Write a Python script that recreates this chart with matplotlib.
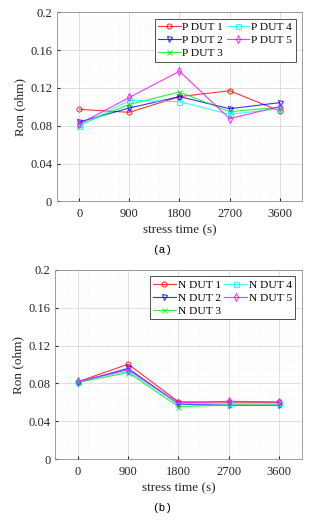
import numpy as np
import matplotlib.pyplot as plt
from matplotlib.ticker import MultipleLocator

# -- data --
stress_time = [0, 900, 1800, 2700, 3600]

p_dut1 = [0.0973, 0.0942, 0.1108, 0.1170, 0.0957]
p_dut2 = [0.0840, 0.0988, 0.1108, 0.0980, 0.1044]
p_dut3 = [0.0808, 0.1026, 0.1157, 0.0949, 0.0995]
p_dut4 = [0.0797, 0.1068, 0.1055, 0.0920, 0.0980]
p_dut5 = [0.0818, 0.1100, 0.1376, 0.0875, 0.1002]

n_dut1 = [0.0817, 0.1004, 0.0606, 0.0602, 0.0600]
n_dut2 = [0.0810, 0.0960, 0.0580, 0.0570, 0.0570]
n_dut3 = [0.0812, 0.0915, 0.0555, 0.0572, 0.0572]
n_dut4 = [0.0820, 0.0930, 0.0585, 0.0590, 0.0590]
n_dut5 = [0.0822, 0.0945, 0.0595, 0.0612, 0.0605]

yticks = [0, 0.04, 0.08, 0.12, 0.16, 0.2]
ytick_labels = ["0", "0.04", "0.08", "0.12", "0.16", "0.2"]

# -- style --
plt.rcParams["font.family"] = ["Liberation Serif"]
plt.rcParams["font.size"] = 9
colors = ["#ff0000", "#0000ff", "#00ee00", "#00ffff", "#ff00ff"]
markers = ["o", "v", "x", "s", "d"]
axis_col = "#262626"


def draw_panel(ax, series, prefix):
    for i, (y, c, m) in enumerate(zip(series, colors, markers)):
        ax.plot(stress_time, y, color=c, marker=m, markersize=3.6,
                markerfacecolor="none", markeredgewidth=0.8, linewidth=0.8,
                alpha=0.8, label=f"{prefix} DUT {i + 1}")
    ax.set_xlim(-400, 4000)
    ax.set_ylim(0, 0.2)
    ax.set_xticks(stress_time)
    ax.set_yticks(yticks)
    ax.set_yticklabels(ytick_labels)
    ax.xaxis.set_minor_locator(MultipleLocator(180))
    ax.yaxis.set_minor_locator(MultipleLocator(0.008))
    ax.grid(which="major", color="#d9d9d9", linewidth=0.6)
    ax.grid(which="minor", color="#e6e6e6", linewidth=0.4, linestyle=":")
    ax.set_axisbelow(True)
    ax.tick_params(which="both", direction="in", length=2, colors=axis_col,
                   labelcolor=axis_col, labelsize=9)
    ax.tick_params(axis="x", pad=5)
    ax.tick_params(which="minor", length=0)
    for s in ax.spines.values():
        s.set_color("#8c8c8c")
        s.set_linewidth(0.6)
    ax.set_xlabel("stress time (s)", color=axis_col, fontsize=9.5, labelpad=3)
    ax.set_ylabel("Ron (ohm)", color=axis_col, fontsize=9.5, labelpad=3)
    leg = ax.legend(ncol=2, loc="upper right", fontsize=8.2, frameon=True,
                    fancybox=False, framealpha=1, edgecolor="#333333",
                    handlelength=2.0, handletextpad=0.15, columnspacing=0.3,
                    labelspacing=0.28, borderpad=0.3, borderaxespad=0.55)
    leg.get_frame().set_linewidth(0.6)


fig = plt.figure(figsize=(3.26, 5.23), dpi=100)

ax1 = fig.add_axes([0.175, 0.615, 0.751, 0.3615])
draw_panel(ax1, [p_dut1, p_dut2, p_dut3, p_dut4, p_dut5], "P")

ax2 = fig.add_axes([0.170, 0.122, 0.755, 0.362])
draw_panel(ax2, [n_dut1, n_dut2, n_dut3, n_dut4, n_dut5], "N")

fig.text(0.497, 1 - 250 / 523, "(a)", ha="center", va="center",
         family="Liberation Mono", fontsize=8)
fig.text(0.497, 1 - 508 / 523, "(b)", ha="center", va="center",
         family="Liberation Mono", fontsize=8)

fig.savefig("out.png", dpi=100)
